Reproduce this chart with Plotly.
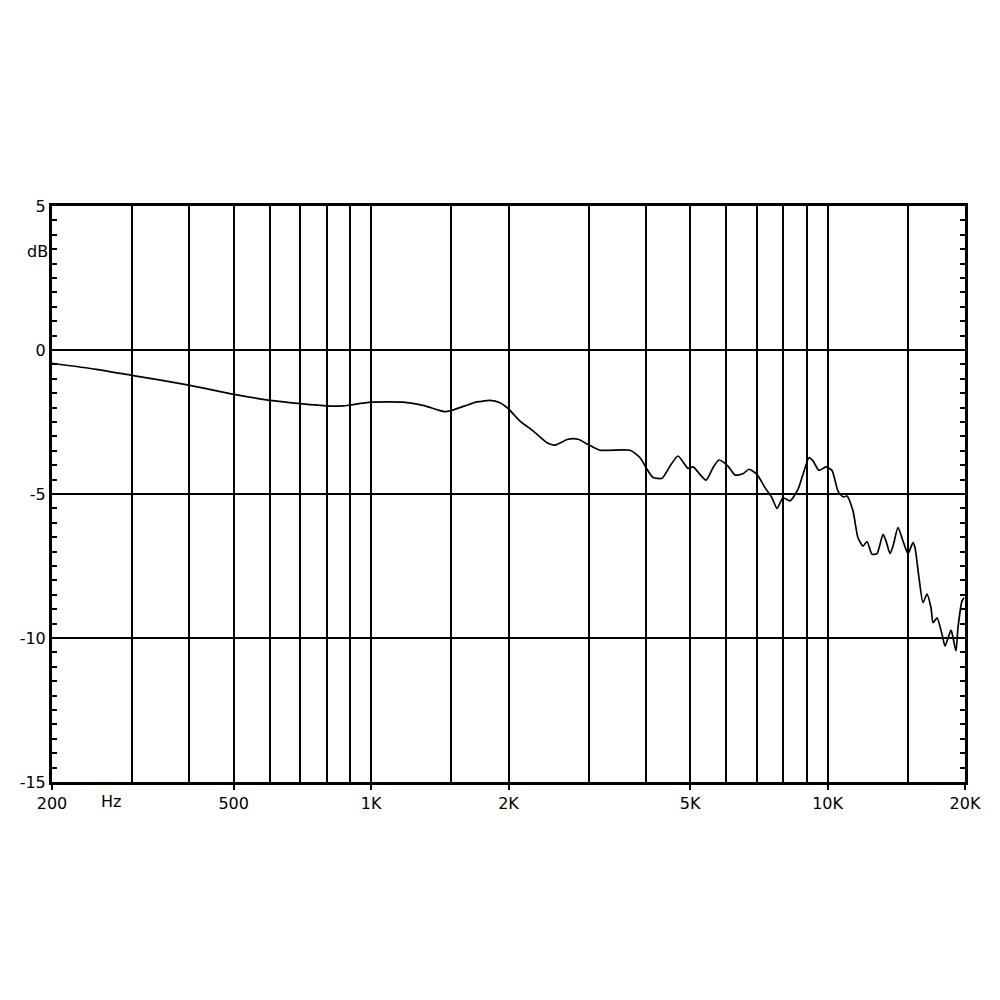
import plotly.graph_objects as go

# Frequency response (Hz, dB)
freq_hz = [200, 250, 299, 399, 501, 601, 699, 801, 868, 899, 999, 1175, 1300, 1400, 1452,
           1500, 1600, 1697, 1732, 1822, 1916, 1995, 2120, 2264, 2429, 2530, 2700, 2840,
           2988, 3172, 3692, 3884, 4022, 4146, 4340, 4518, 4702, 4946, 5074, 5416, 5610,
           5782, 6050, 6268, 6526, 6726, 7004, 7292, 7554, 7748, 7986, 8272, 8614, 8834,
           9106, 9290, 9574, 9920, 10224, 10540, 10808, 11028, 11368, 11658, 11956, 12200,
           12512, 12832, 13226, 13428, 13702, 13910, 14264, 14628, 15002, 15384, 15540,
           15858, 16182, 16512, 16848, 17020, 17368, 17812, 18082, 18636, 18824, 19112,
           19306, 19698, 19898]
level_db = [-0.46, -0.67, -0.88, -1.22, -1.54, -1.75, -1.86, -1.94, -1.94, -1.91, -1.81,
            -1.81, -1.92, -2.08, -2.14, -2.10, -1.95, -1.81, -1.79, -1.75, -1.83, -2.03,
            -2.47, -2.81, -3.22, -3.30, -3.10, -3.10, -3.28, -3.48, -3.48, -3.74, -4.14,
            -4.43, -4.45, -4.03, -3.68, -4.11, -4.06, -4.52, -4.09, -3.82, -4.03, -4.34,
            -4.30, -4.14, -4.32, -4.78, -5.13, -5.50, -5.13, -5.24, -4.84, -4.32, -3.74,
            -3.85, -4.18, -4.06, -4.18, -4.90, -5.10, -5.07, -5.59, -6.52, -6.81, -6.65,
            -7.09, -7.07, -6.40, -6.63, -7.07, -6.81, -6.17, -6.63, -7.07, -6.69, -6.86,
            -7.91, -8.77, -8.48, -8.95, -9.47, -9.30, -9.87, -10.28, -9.73, -9.98, -10.45,
            -9.64, -8.72, -8.60]

x_label_vals = [200, 500, 1000, 2000, 5000, 10000, 20000]
x_label_text = ["200", "500", "1K", "2K", "5K", "10K", "20K"]
x_grid_vals = [300, 400, 600, 700, 800, 900, 1500, 3000, 4000, 6000, 7000, 8000, 9000, 15000]
y_label_vals = [-15, -10, -5, 0, 5]
y_label_text = ["-15", "-10", "-5", "0", "5"]

font = dict(family="DejaVu Sans", size=16, color="black")

fig = go.Figure()
fig.add_trace(go.Scatter(x=freq_hz, y=level_db, mode="lines",
                         line=dict(color="black", width=1.7, shape="spline", smoothing=0.6),
                         showlegend=False, hoverinfo="skip"))
# invisible anchor trace so the tick-only axis (0.5 dB ticks on both sides) is rendered
fig.add_trace(go.Scatter(x=freq_hz[:1], y=level_db[:1], yaxis="y2", mode="markers",
                         marker=dict(opacity=0), showlegend=False, hoverinfo="skip"))

fig.update_layout(
    width=1000, height=1000,
    margin=dict(l=44, r=43, t=198, b=226),
    paper_bgcolor="white", plot_bgcolor="white",
    font=font,
    xaxis=dict(type="log", range=[2.30103, 4.30103],
               tickvals=x_label_vals, ticktext=x_label_text,
               ticks="outside", ticklen=5, tickwidth=1.5, tickcolor="black",
               showgrid=True, gridcolor="black", gridwidth=1.5,
               showline=True, linecolor="black", linewidth=2.5, mirror=True,
               zeroline=False, tickfont=font,
               minor=dict(tickvals=x_grid_vals, showgrid=True, gridcolor="black",
                          gridwidth=1.5, ticks="")),
    yaxis=dict(range=[-15, 5], tickvals=y_label_vals, ticktext=y_label_text,
               ticks="", showgrid=True, gridcolor="black", gridwidth=1.5,
               showline=True, linecolor="black", linewidth=3, mirror=True,
               zeroline=False, tickfont=font),
    yaxis2=dict(range=[-15, 5], overlaying="y", side="left", anchor="x",
                showgrid=False, zeroline=False, showticklabels=False,
                tickmode="linear", tick0=0, dtick=0.5,
                ticks="inside", ticklen=5, tickwidth=1.5, tickcolor="black",
                mirror="ticks", showline=False),
)

fig.add_annotation(text="dB", x=-0.0296, y=0.941, xref="paper", yref="paper",
                   showarrow=False, font=font)
fig.add_annotation(text="Hz", xref="x", yref="paper", x=2.43, y=0, yanchor="middle",
                   yshift=-19, showarrow=False, font=font)

fig.write_html("out.html")
